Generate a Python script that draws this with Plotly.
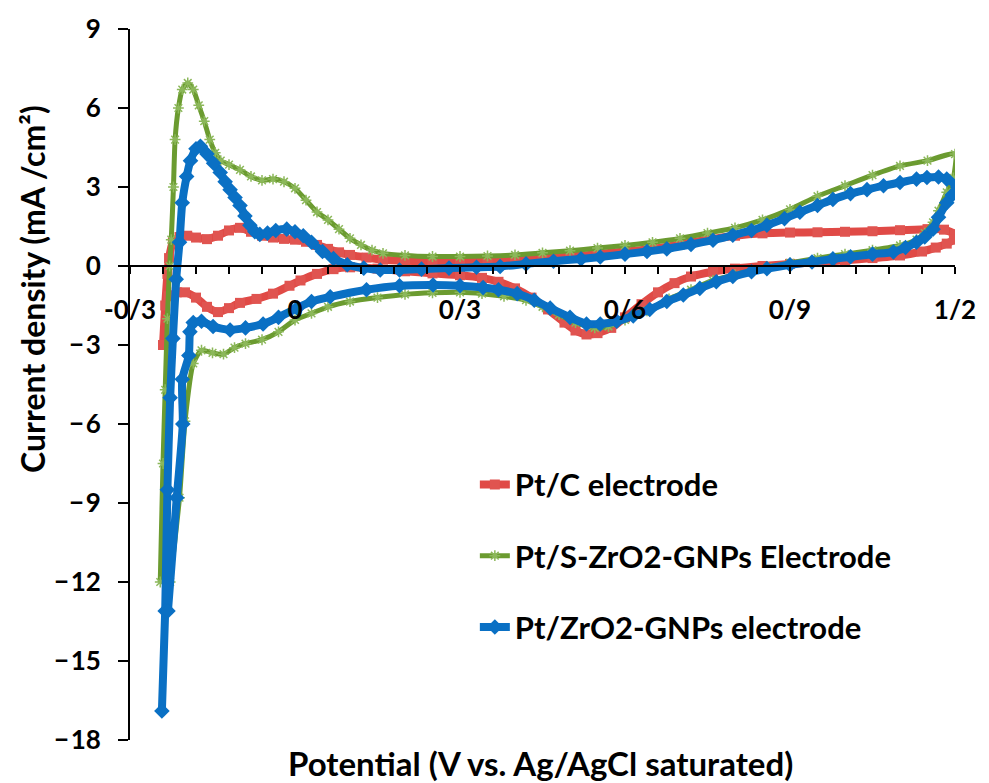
import plotly.graph_objects as go

# ---------------- data ----------------
ptc_x = [-0.240, -0.236, -0.232, -0.229, -0.222, -0.210, -0.196, -0.180, -0.160, -0.140, -0.120, -0.100,
         -0.080, -0.060, -0.040, -0.020, 0.000, 0.020, 0.040, 0.060, 0.080, 0.100, 0.130, 0.160, 0.200,
         0.250, 0.300, 0.350, 0.400, 0.450, 0.500, 0.550, 0.600, 0.650, 0.700, 0.750, 0.800, 0.850, 0.900,
         0.950, 1.000, 1.050, 1.100, 1.150, 1.180, 1.200,
         1.198, 1.185, 1.165, 1.140, 1.100, 1.050, 1.000, 0.950, 0.900, 0.850, 0.800, 0.760, 0.720, 0.690,
         0.660, 0.630, 0.600, 0.575, 0.550, 0.530, 0.510, 0.490, 0.460, 0.430, 0.400, 0.370, 0.340, 0.300,
         0.250, 0.200, 0.150, 0.100, 0.070, 0.040, 0.010, -0.010, -0.040, -0.070, -0.100, -0.120, -0.140,
         -0.160, -0.180, -0.200, -0.215, -0.230]
ptc_y = [-3.00, -1.50, -0.30, 0.30, 0.90, 1.10, 1.15, 1.08, 1.02, 1.15, 1.35, 1.45,
         1.30, 1.15, 1.08, 1.03, 1.00, 0.92, 0.80, 0.65, 0.52, 0.42, 0.32, 0.24, 0.20,
         0.18, 0.20, 0.22, 0.25, 0.30, 0.36, 0.45, 0.55, 0.65, 0.82, 1.00, 1.15, 1.24, 1.27,
         1.28, 1.30, 1.32, 1.36, 1.40, 1.38, 1.20,
         1.00, 0.85, 0.70, 0.55, 0.40, 0.30, 0.22, 0.15, 0.08, 0.00, -0.10, -0.22, -0.40, -0.65,
         -1.00, -1.45, -1.95, -2.35, -2.55, -2.60, -2.45, -2.15, -1.65, -1.20, -0.85, -0.60, -0.45, -0.35,
         -0.28, -0.20, -0.10, -0.05, -0.12, -0.30, -0.55, -0.75, -1.05, -1.25, -1.40, -1.60, -1.75,
         -1.55, -1.20, -1.00, -1.00, -1.15]

szr_x = [-0.245, -0.240, -0.236, -0.232, -0.228, -0.225, -0.221, -0.218, -0.212, -0.205, -0.195, -0.185,
         -0.175, -0.165, -0.155, -0.145, -0.135, -0.120, -0.100, -0.080, -0.060, -0.040, -0.020, 0.000,
         0.020, 0.040, 0.060, 0.080, 0.100, 0.120, 0.140, 0.160, 0.200, 0.250, 0.300, 0.350, 0.400, 0.450,
         0.500, 0.550, 0.600, 0.650, 0.700, 0.750, 0.800, 0.850, 0.900, 0.950, 1.000, 1.050, 1.100, 1.150,
         1.200,
         1.197, 1.185, 1.170, 1.160, 1.145, 1.130, 1.100, 1.050, 1.000, 0.950, 0.900, 0.860, 0.800, 0.760,
         0.720, 0.680, 0.640, 0.600, 0.570, 0.545, 0.510, 0.480, 0.450, 0.420, 0.380, 0.340, 0.300, 0.250,
         0.200, 0.150, 0.100, 0.060, 0.030, 0.000, -0.030, -0.060, -0.090, -0.110, -0.130, -0.150, -0.170,
         -0.185, -0.200, -0.210, -0.227]
szr_y = [-12.0, -7.5, -4.7, -2.0, 0.0, 1.0, 3.0, 4.8, 6.0, 6.7, 6.95, 6.7,
         6.1, 5.5, 4.8, 4.3, 4.0, 3.85, 3.65, 3.40, 3.25, 3.30, 3.20, 2.95,
         2.50, 2.05, 1.75, 1.40, 1.05, 0.80, 0.60, 0.48, 0.40, 0.36, 0.36, 0.38, 0.42, 0.50,
         0.58, 0.68, 0.78, 0.90, 1.05, 1.25, 1.45, 1.75, 2.15, 2.65, 3.05, 3.45, 3.80, 4.00,
         4.25,
         3.35, 2.80, 2.10, 1.66, 1.25, 1.00, 0.78, 0.60, 0.45, 0.30, 0.12, -0.05, -0.33, -0.55,
         -0.90, -1.25, -1.70, -2.05, -2.30, -2.35, -2.15, -1.85, -1.55, -1.30, -1.15, -1.05, -1.00, -1.02,
         -1.08, -1.20, -1.35, -1.55, -1.80, -2.05, -2.50, -2.80, -2.95, -3.10, -3.35, -3.30, -3.20,
         -3.70, -5.90, -8.80, -12.0]

zr_x = [-0.242, -0.236, -0.232, -0.227, -0.222, -0.216, -0.210, -0.205, -0.197, -0.190, -0.180, -0.172,
        -0.160, -0.148, -0.136, -0.127, -0.118, -0.109, -0.100, -0.091, -0.082, -0.073, -0.064, -0.050,
        -0.035, -0.015, 0.000, 0.015, 0.030, 0.050, 0.070, 0.095, 0.125, 0.155, 0.190, 0.230, 0.280,
        0.330, 0.373, 0.420, 0.470, 0.520, 0.555, 0.600, 0.640, 0.676, 0.720, 0.760, 0.796, 0.830, 0.858,
        0.890, 0.918, 0.950, 0.978, 1.010, 1.040, 1.070, 1.100, 1.130, 1.149, 1.170, 1.185, 1.205,
        1.195, 1.185, 1.170, 1.160, 1.145, 1.130, 1.110, 1.088, 1.050, 1.010, 0.978, 0.940, 0.900, 0.858,
        0.830, 0.796, 0.766, 0.736, 0.706, 0.676, 0.645, 0.615, 0.585, 0.555, 0.530, 0.500, 0.464, 0.435,
        0.404, 0.370, 0.342, 0.300, 0.251, 0.190, 0.130, 0.064, 0.030, 0.004, -0.030, -0.058, -0.090,
        -0.118, -0.149, -0.170, -0.185, -0.191, -0.193, -0.205, -0.204, -0.215, -0.231]
zr_y = [-16.9, -13.1, -8.5, -5.0, -2.75, -0.5, 0.9, 2.4, 3.4, 4.0, 4.45, 4.55,
        4.25, 3.90, 3.55, 3.20, 2.90, 2.60, 2.30, 1.90, 1.55, 1.30, 1.20, 1.25,
        1.35, 1.40, 1.30, 1.15, 0.90, 0.55, 0.28, 0.05, -0.08, -0.15, -0.15, -0.12, -0.08,
        -0.05, -0.02, 0.08, 0.18, 0.27, 0.34, 0.45, 0.55, 0.65, 0.82, 0.98, 1.17, 1.35, 1.55,
        1.80, 2.04, 2.30, 2.53, 2.75, 2.90, 3.05, 3.17, 3.30, 3.36, 3.38, 3.30, 3.00,
        2.70, 2.40, 1.85, 1.40, 1.10, 0.90, 0.70, 0.53, 0.45, 0.35, 0.27, 0.15, 0.05, -0.10,
        -0.22, -0.40, -0.60, -0.85, -1.10, -1.35, -1.65, -1.90, -2.10, -2.20, -2.20, -1.95, -1.60, -1.30,
        -1.05, -0.90, -0.82, -0.75, -0.72, -0.75, -0.90, -1.17, -1.35, -1.60, -1.95, -2.20, -2.35,
        -2.43, -2.30, -2.10, -2.15, -2.50, -3.40, -4.30, -6.00, -8.80, -13.1]

series_names = ["Pt/C electrode", "Pt/S-ZrO2-GNPs Electrode", "Pt/ZrO2-GNPs electrode"]

x_tick_vals = [-0.3, 0.0, 0.3, 0.6, 0.9, 1.2]
x_tick_text = ["-0/3", "0", "0/3", "0/6", "0/9", "1/2"]
y_tick_vals = [-18, -15, -12, -9, -6, -3, 0, 3, 6, 9]
y_tick_text = ["\u2212\u200a18", "\u2212\u200a15", "\u2212\u200a12", "\u2212\u200a9", "\u2212\u200a6",
               "\u2212\u200a3", "0", "3", "6", "9"]

FONT = "Lato"

fig = go.Figure()

fig.add_trace(go.Scatter(
    x=ptc_x, y=ptc_y, name=series_names[0], legendgroup="a", mode="lines+markers",
    line=dict(color="#E04A46", width=8, shape="spline", smoothing=0.6),
    marker=dict(symbol="square", size=10, color="#E05450"),
))
fig.add_trace(go.Scatter(
    x=szr_x, y=szr_y, name=series_names[1], legendgroup="b", mode="lines+markers",
    line=dict(color="#6B9B30", width=5, shape="spline", smoothing=0.6),
    marker=dict(symbol="asterisk-open", size=9, color="#8CB85A", line=dict(width=1.5, color="#8CB85A")),
))
fig.add_trace(go.Scatter(
    x=zr_x, y=zr_y, name=series_names[2], legendgroup="c", mode="lines+markers",
    line=dict(color="#0A70C4", width=8, shape="spline", smoothing=0.6),
    marker=dict(symbol="diamond", size=12, color="#0A70C4"),
))

fig.update_layout(
    width=989, height=783,
    margin=dict(l=130, r=34, t=25, b=43),
    plot_bgcolor="white", paper_bgcolor="white",
    font=dict(family=FONT, color="black"),
    showlegend=True,
    legend=dict(
        x=0.418, y=0.397, xanchor="left", yanchor="top",
        font=dict(family=FONT, size=31, color="black", weight="bold"),
        tracegroupgap=28, bgcolor="rgba(0,0,0,0)",
    ),
    xaxis=dict(
        range=[-0.3, 1.2], showgrid=False, zeroline=False,
        showline=True, linecolor="black", linewidth=2,
        anchor="free", position=2/3, layer="above traces",
        tickmode="array", tickvals=x_tick_vals, ticktext=x_tick_text,
        ticks="outside", ticklen=7, tickwidth=2, tickcolor="black",
        ticklabelstandoff=14,
        tickfont=dict(family=FONT, size=26, color="black", weight="bold"),
        minor=dict(dtick=0.06, tick0=-0.3, ticks="outside", ticklen=7, tickwidth=2, tickcolor="black"),
    ),
    yaxis=dict(
        range=[-18, 9], showgrid=False, zeroline=False,
        showline=True, linecolor="black", linewidth=2, layer="below traces",
        tickmode="array", tickvals=y_tick_vals, ticktext=y_tick_text,
        ticks="outside", ticklen=10, tickwidth=2, tickcolor="black",
        ticklabelstandoff=12,
        tickfont=dict(family=FONT, size=26, color="black", weight="bold"),
    ),
    annotations=[
        dict(text="Potential (V vs. Ag/AgCl saturated)", xref="paper", yref="paper",
             x=0.498, y=-0.033, xanchor="center", yanchor="middle", showarrow=False,
             font=dict(family=FONT, size=33, color="black", weight="bold")),
        dict(text="Current density (mA /cm\u00b2)", xref="paper", yref="paper",
             x=-0.118, y=0.634, xanchor="center", yanchor="middle", showarrow=False,
             textangle=-90, font=dict(family=FONT, size=32, color="black", weight="bold")),
    ],
)

fig.write_html("out.html")
